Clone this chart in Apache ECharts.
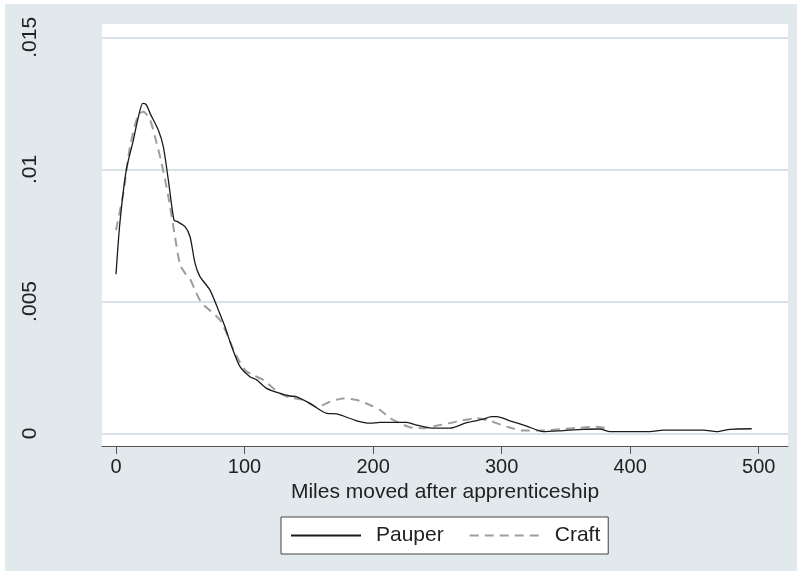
<!DOCTYPE html>
<html>
<head>
<meta charset="utf-8">
<script src="https://cdn.jsdelivr.net/npm/echarts@6/dist/echarts.min.js"></script>
<style>
  html, body { margin: 0; padding: 0; background: #ffffff; }
  #chart { position: absolute; left: 5px; top: 4px; width: 792px; height: 567px; }
</style>
</head>
<body>
<div id="chart"></div>
<script>
// Kernel density of miles moved after apprenticeship
var pauperX = [0, 3, 8, 13.5, 17, 20.8, 23.5, 26.5, 32.9, 36.8, 40.7, 45.1, 47.7, 53.7, 57.6, 61.5, 65.3, 73.1, 79.6, 84.8, 90, 96.5, 104.2, 109.5, 117.2, 127.6, 135.4, 140.6, 150.9, 164, 171.7, 187.3, 197.6, 205.4, 218.4, 226.2, 234, 246.8, 259.8, 272.8, 285.8, 292, 296.2, 306.5, 319.5, 332.4, 345.4, 363.5, 376.5, 384.3, 399.9, 415.4, 425.8, 444, 457, 467.3, 477.7, 494.6];
var pauperY = [0.00603, 0.00796, 0.00998, 0.01111, 0.0119, 0.0125, 0.01245, 0.01212, 0.01149, 0.01086, 0.0096, 0.00808, 0.00802, 0.00783, 0.00745, 0.00644, 0.00594, 0.00543, 0.00468, 0.00404, 0.00329, 0.00253, 0.00215, 0.00203, 0.00171, 0.00152, 0.00142, 0.00139, 0.00114, 0.00076, 0.00074, 0.00048, 0.00039, 0.00042, 0.00042, 0.00042, 0.00032, 0.0002, 0.0002, 0.00041, 0.00054, 0.00064, 0.00064, 0.00048, 0.00028, 0.00007, 0.0001, 0.00016, 0.00017, 0.00007, 0.00007, 0.00007, 0.00013, 0.00013, 0.00013, 0.00007, 0.00016, 0.00018];

var craftX = [0, 5.7, 10.9, 17.3, 21.2, 26.5, 30.3, 35.5, 40.7, 45.9, 49.8, 53.7, 57.6, 61.5, 66.7, 74.4, 80.9, 86.1, 92.6, 100.4, 106.8, 114.6, 122.4, 127.6, 135.4, 145.7, 156.1, 166.5, 176.8, 187.2, 197.6, 205.4, 213.2, 220.9, 228.7, 239, 252, 265, 280.5, 290.9, 303.9, 316.9, 329.8, 345.4, 361, 373.9, 381.7];
var craftY = [0.0077, 0.0091, 0.01086, 0.01206, 0.01218, 0.01187, 0.01124, 0.01023, 0.00897, 0.00745, 0.0064, 0.00607, 0.00585, 0.00543, 0.00493, 0.00461, 0.0043, 0.00379, 0.00304, 0.0024, 0.00221, 0.00203, 0.00171, 0.00152, 0.00136, 0.00127, 0.00101, 0.0012, 0.00133, 0.00127, 0.00108, 0.00089, 0.00058, 0.00039, 0.00024, 0.0002, 0.00032, 0.00045, 0.00058, 0.00048, 0.00026, 0.00011, 0.00011, 0.00016, 0.00022, 0.00026, 0.0002];

var xTicks = [0, 100, 200, 300, 400, 500];
var yTicks = [0, 0.005, 0.01, 0.015];
var yTickLabels = ['0', '.005', '.01', '.015'];

function zip(xs, ys) {
  return xs.map(function (x, i) { return [x, ys[i]]; });
}

var FONT = '"Liberation Sans", Arial, sans-serif';
var chart = echarts.init(document.getElementById('chart'));

chart.setOption({
  backgroundColor: '#e1e9ec',
  animation: false,
  grid: {
    left: 97, top: 20, right: 9, bottom: 125,
    show: true, backgroundColor: '#ffffff', borderWidth: 0
  },
  xAxis: {
    type: 'value',
    min: -10.9, max: 522.8,
    name: 'Miles moved after apprenticeship',
    nameLocation: 'middle',
    nameGap: 36,
    nameTextStyle: { fontFamily: FONT, fontSize: 21, color: '#222' },
    axisLine: { show: true, onZero: false, lineStyle: { color: '#555', width: 1 } },
    axisTick: { show: true, length: 8, customValues: xTicks, lineStyle: { color: '#555', width: 1 } },
    axisLabel: { customValues: xTicks, margin: 11, fontFamily: FONT, fontSize: 20, color: '#222' },
    splitLine: { show: false }
  },
  yAxis: {
    type: 'value',
    min: -0.000473, max: 0.015504,
    axisLine: { show: false },
    // ticks hidden; their values also place the horizontal grid lines
    axisTick: { show: false, customValues: yTicks },
    axisLabel: {
      customValues: yTicks,
      rotate: 90,
      margin: 61,
      fontFamily: FONT, fontSize: 21, color: '#222',
      formatter: function (v) {
        for (var i = 0; i < yTicks.length; i++) {
          if (Math.abs(yTicks[i] - v) < 1e-9) return yTickLabels[i];
        }
        return '';
      }
    },
    splitLine: { show: true, lineStyle: { color: '#d8e2e6', width: 2 } }
  },
  legend: {
    left: 276, top: 513,
    orient: 'horizontal',
    backgroundColor: '#ffffff',
    borderColor: '#444', borderWidth: 1,
    borderRadius: 0,
    padding: [8, 8, 8, 9],
    itemWidth: 70, itemHeight: 14,
    itemGap: 25,
    itemStyle: { opacity: 0 },
    textStyle: { fontFamily: FONT, fontSize: 21, color: '#222', padding: [0, 0, 0, 10] },
    data: ['Pauper', 'Craft']
  },
  series: [
    {
      name: 'Pauper',
      type: 'line',
      data: zip(pauperX, pauperY),
      symbol: 'none',
      smooth: 0.25,
      z: 3,
      lineStyle: { color: '#1a1a1a', width: 1.3 },
      itemStyle: { color: '#1a1a1a' }
    },
    {
      name: 'Craft',
      type: 'line',
      data: zip(craftX, craftY),
      symbol: 'none',
      smooth: 0.25,
      z: 2,
      lineStyle: { color: '#9e9e9e', width: 2, type: [9, 6] },
      itemStyle: { color: '#9e9e9e' }
    }
  ]
});
</script>
</body>
</html>
